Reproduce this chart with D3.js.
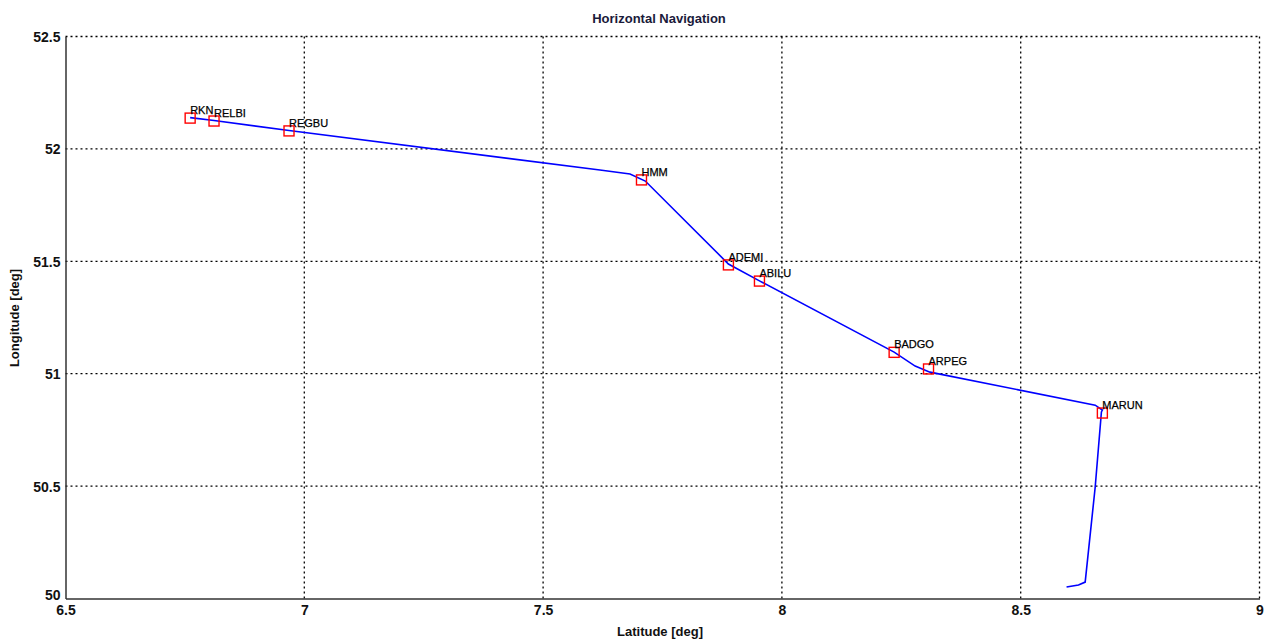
<!DOCTYPE html>
<html><head><meta charset="utf-8">
<script src="https://cdn.jsdelivr.net/npm/d3@7"></script>
<style>
html,body{margin:0;padding:0;background:#fff;}
svg text{font-family:"Liberation Sans",Arial,sans-serif;}
</style></head>
<body>
<svg id="chart" width="1266" height="639"></svg>
<script>
// Waypoints
const wpNames = ["RKN","RELBI","REGBU","HMM","ADEMI","ABILU","BADGO","ARPEG","MARUN"];
const wpLat   = [6.761, 6.811, 6.968, 7.706, 7.888, 7.953, 8.235, 8.307, 8.671];
const wpLon   = [52.137, 52.124, 52.080, 51.862, 51.484, 51.412, 51.095, 51.021, 50.825];
// Flight trajectory
const trackLat = [6.761, 6.811, 6.968, 7.619, 7.682, 7.714, 7.888, 7.954, 8.235, 8.279, 8.310, 8.656, 8.671, 8.669, 8.656, 8.635, 8.621, 8.596];
const trackLon = [52.139, 52.126, 52.082, 51.906, 51.888, 51.857, 51.488, 51.412, 51.096, 51.034, 51.007, 50.860, 50.838, 50.830, 50.496, 50.073, 50.060, 50.051];
// Ticks
const xTicks = [6.5, 7, 7.5, 8, 8.5, 9];
const yTicks = [50, 50.5, 51, 51.5, 52, 52.5];
const xTickLabels = ["6.5","7","7.5","8","8.5","9"];
const yTickLabels = ["50","50.5","51","51.5","52","52.5"];

const svg = d3.select("#chart");
const L = 65.5, R = 1259.5, T = 36.5, B = 598.5;
const x = d3.scaleLinear().domain([6.5, 9]).range([L, R]);
const y = d3.scaleLinear().domain([50, 52.5]).range([B, T]);

// grid
const g = svg.append("g");
g.selectAll(".vg").data(xTicks.filter(d => d > 6.5)).enter().append("line")
  .attr("x1", d => x(d)).attr("x2", d => x(d)).attr("y1", T).attr("y2", B)
  .attr("stroke", "#000").attr("stroke-width", 1.3).attr("stroke-dasharray", "2,3");
g.selectAll(".hg").data(yTicks.filter(d => d > 50)).enter().append("line")
  .attr("x1", L).attr("x2", R).attr("y1", d => y(d)).attr("y2", d => y(d))
  .attr("stroke", "#000").attr("stroke-width", 1.3).attr("stroke-dasharray", "2,3");

// axes
const xAxis = d3.axisBottom(x).tickValues(xTicks).tickFormat((d,i) => xTickLabels[i]).tickSize(0).tickPadding(5);
const yAxis = d3.axisLeft(y).tickValues(yTicks).tickFormat((d,i) => yTickLabels[i]).tickSize(0).tickPadding(5);
const gx = svg.append("g").attr("transform", `translate(0,${B})`).call(xAxis);
const gy = svg.append("g").attr("transform", `translate(${L},0)`).call(yAxis);
[gx, gy].forEach(a => {
  a.select(".domain").attr("stroke", "#333").attr("stroke-width", 1.5);
  a.selectAll("text").attr("font-size", 14).attr("font-weight", "bold").attr("fill", "#111");
});
gx.selectAll("text").attr("dy", "0.85em");
gy.selectAll("text").attr("dy", "0.35em");
gy.selectAll("text").filter(d => d === 50).attr("dy", "0.1em");

// trajectory
const pts = trackLat.map((d,i) => [d, trackLon[i]]);
svg.append("path").datum(pts)
  .attr("d", d3.line().x(d => x(d[0])).y(d => y(d[1])).curve(d3.curveLinear))
  .attr("fill", "none").attr("stroke", "#0000ff").attr("stroke-width", 1.6);

// waypoints
const wps = wpNames.map((n,i) => ({n, lat: wpLat[i], lon: wpLon[i]}));
svg.selectAll(".wp").data(wps).enter().append("rect")
  .attr("x", d => x(d.lat) - 5).attr("y", d => y(d.lon) - 5)
  .attr("width", 10).attr("height", 10)
  .attr("fill", "none").attr("stroke", "#ff0000").attr("stroke-width", 1.4);
svg.selectAll(".wpl").data(wps).enter().append("text")
  .attr("x", d => x(d.lat)).attr("y", d => y(d.lon) - 4)
  .attr("font-size", 11).attr("fill", "#000").attr("stroke", "#000").attr("stroke-width", 0.25)
  .text(d => d.n);

// titles
svg.append("text").attr("x", 659).attr("y", 23).attr("text-anchor", "middle")
  .attr("font-size", 13).attr("font-weight", "bold").attr("fill", "#1a1a3a").text("Horizontal Navigation");
svg.append("text").attr("x", 660).attr("y", 636).attr("text-anchor", "middle")
  .attr("font-size", 13).attr("font-weight", "bold").attr("fill", "#111").text("Latitude [deg]");
svg.append("text").attr("transform", "translate(19,318) rotate(-90)").attr("text-anchor", "middle")
  .attr("font-size", 13).attr("font-weight", "bold").attr("fill", "#111").text("Longitude [deg]");
</script>
</body></html>
